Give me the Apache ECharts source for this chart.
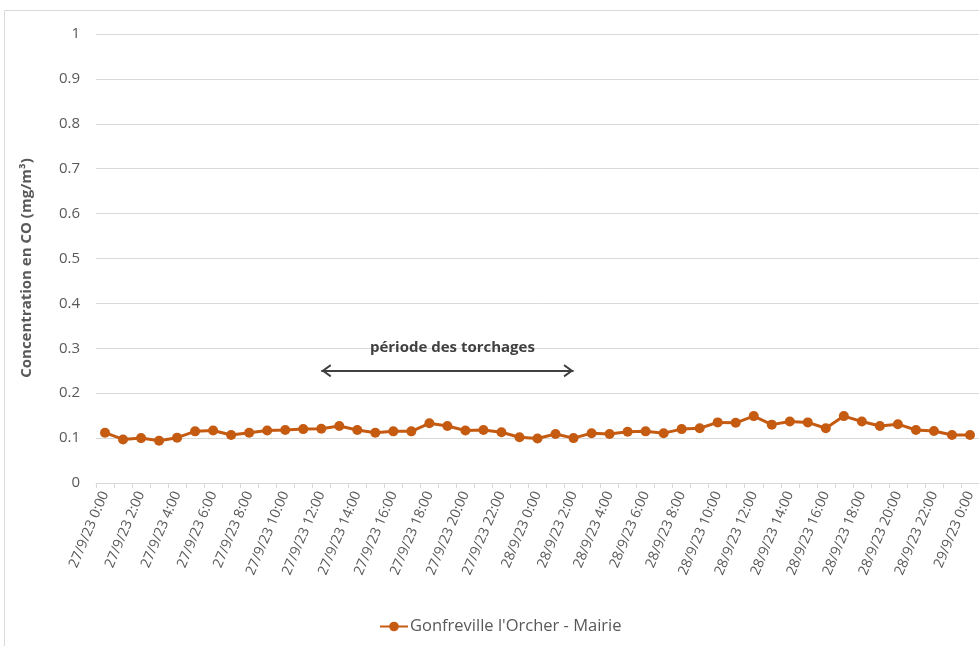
<!DOCTYPE html>
<html>
<head>
<meta charset="utf-8">
<script src="https://cdn.jsdelivr.net/npm/echarts@6/dist/echarts.min.js"></script>
<style>
  html, body { margin: 0; padding: 0; background: #ffffff; }
  #chart { width: 979px; height: 646px; }
</style>
</head>
<body>
<div id="chart"></div>
<script>
// Hourly timestamps, 27/9/23 0:00 to 29/9/23 0:00
var categories = [
  '27/9/23 0:00', '27/9/23 1:00', '27/9/23 2:00', '27/9/23 3:00', '27/9/23 4:00', '27/9/23 5:00',
  '27/9/23 6:00', '27/9/23 7:00', '27/9/23 8:00', '27/9/23 9:00', '27/9/23 10:00', '27/9/23 11:00',
  '27/9/23 12:00', '27/9/23 13:00', '27/9/23 14:00', '27/9/23 15:00', '27/9/23 16:00', '27/9/23 17:00',
  '27/9/23 18:00', '27/9/23 19:00', '27/9/23 20:00', '27/9/23 21:00', '27/9/23 22:00', '27/9/23 23:00',
  '28/9/23 0:00', '28/9/23 1:00', '28/9/23 2:00', '28/9/23 3:00', '28/9/23 4:00', '28/9/23 5:00',
  '28/9/23 6:00', '28/9/23 7:00', '28/9/23 8:00', '28/9/23 9:00', '28/9/23 10:00', '28/9/23 11:00',
  '28/9/23 12:00', '28/9/23 13:00', '28/9/23 14:00', '28/9/23 15:00', '28/9/23 16:00', '28/9/23 17:00',
  '28/9/23 18:00', '28/9/23 19:00', '28/9/23 20:00', '28/9/23 21:00', '28/9/23 22:00', '28/9/23 23:00',
  '29/9/23 0:00'
];

// CO concentration (mg/m³), Gonfreville l'Orcher - Mairie
var coMairie = [
  0.112, 0.097, 0.100, 0.094, 0.101, 0.115, 0.117, 0.107, 0.112, 0.117, 0.118, 0.120,
  0.121, 0.127, 0.118, 0.112, 0.115, 0.115, 0.133, 0.127, 0.117, 0.118, 0.113, 0.102,
  0.099, 0.109, 0.100, 0.111, 0.109, 0.114, 0.115, 0.111, 0.120, 0.122, 0.135, 0.134,
  0.149, 0.130, 0.137, 0.135, 0.122, 0.149, 0.137, 0.127, 0.131, 0.118, 0.116, 0.107,
  0.107
];

var seriesName = "Gonfreville l'Orcher - Mairie";
var yAxisTitle = 'Concentration en CO (mg/m³)';
var flaringLabel = 'période des torchages';
var flaringStart = '27/9/23 12:00';
var flaringEnd = '28/9/23 2:00';
var flaringLevel = 0.25;

var FONT = '"Open Sans", "Noto Sans", sans-serif';
var TEXT = '#595959';
var ORANGE = '#c55a11';

// Open chevron arrow head pointing up; the chevron sits in the lower half of
// the symbol box (a zero-size point pads the top) so its tip lands on the end coordinate.
var chevron = 'path://M5,0 L5.01,0 Z M5,10 L10,19 L8.6,20 L5,13.4 L1.4,20 L0,19 Z';

var chart = echarts.init(document.getElementById('chart'), null, { renderer: 'canvas' });

chart.setOption({
  animation: false,
  backgroundColor: '#ffffff',
  textStyle: { fontFamily: FONT },
  grid: { left: 96, right: 0, top: 34, bottom: 163, containLabel: false },
  graphic: [
    {
      type: 'rect',
      shape: { x: 4.5, y: 10.5, width: 1000, height: 700 },
      style: { fill: 'none', stroke: '#d9d9d9', lineWidth: 1 },
      silent: true
    },
    {
      type: 'text',
      x: 27, y: 268,
      rotation: Math.PI / 2,
      style: {
        text: yAxisTitle,
        fill: TEXT,
        font: 'bold 15px ' + FONT,
        align: 'center',
        verticalAlign: 'middle'
      }
    }
  ],
  legend: {
    top: 613,
    left: 374,
    itemWidth: 28,
    itemHeight: 12,
    itemGap: 10,
    textStyle: { color: TEXT, fontSize: 16.5, fontFamily: FONT, padding: [0, 0, 0, -3] },
    data: [seriesName]
  },
  xAxis: {
    type: 'category',
    data: categories,
    boundaryGap: true,
    axisLine: { show: true, lineStyle: { color: '#d9d9d9', width: 1 } },
    axisTick: { show: true, interval: 0, length: 5, lineStyle: { color: '#d9d9d9' } },
    axisLabel: {
      interval: 1,
      rotate: 67,
      margin: 9,
      color: TEXT,
      fontSize: 14,
      fontFamily: FONT
    },
    splitLine: { show: false }
  },
  yAxis: {
    type: 'value',
    min: 0,
    max: 1,
    interval: 0.1,
    axisLine: { show: false },
    axisTick: { show: false },
    axisLabel: {
      color: TEXT,
      fontSize: 15,
      fontFamily: FONT,
      margin: 16,
      formatter: function (v) { return String(Math.round(v * 10) / 10); }
    },
    splitLine: { show: true, lineStyle: { color: '#d9d9d9', width: 1 } }
  },
  series: [
    {
      name: seriesName,
      type: 'line',
      data: coMairie,
      symbol: 'circle',
      symbolSize: 10,
      showAllSymbol: true,
      lineStyle: { color: ORANGE, width: 3 },
      itemStyle: { color: ORANGE },
      markLine: {
        silent: true,
        symbol: [chevron, chevron],
        symbolSize: [13, 20],
        lineStyle: { color: '#404040', width: 2, type: 'solid' },
        label: {
          show: true,
          position: 'insideMiddleTop',
          distance: 16,
          offset: [5, 0],
          formatter: flaringLabel,
          color: '#404040',
          fontWeight: 'bold',
          fontSize: 15,
          fontFamily: FONT
        },
        data: [[
          { coord: [flaringStart, flaringLevel] },
          { coord: [flaringEnd, flaringLevel] }
        ]]
      }
    }
  ]
});
</script>
</body>
</html>
